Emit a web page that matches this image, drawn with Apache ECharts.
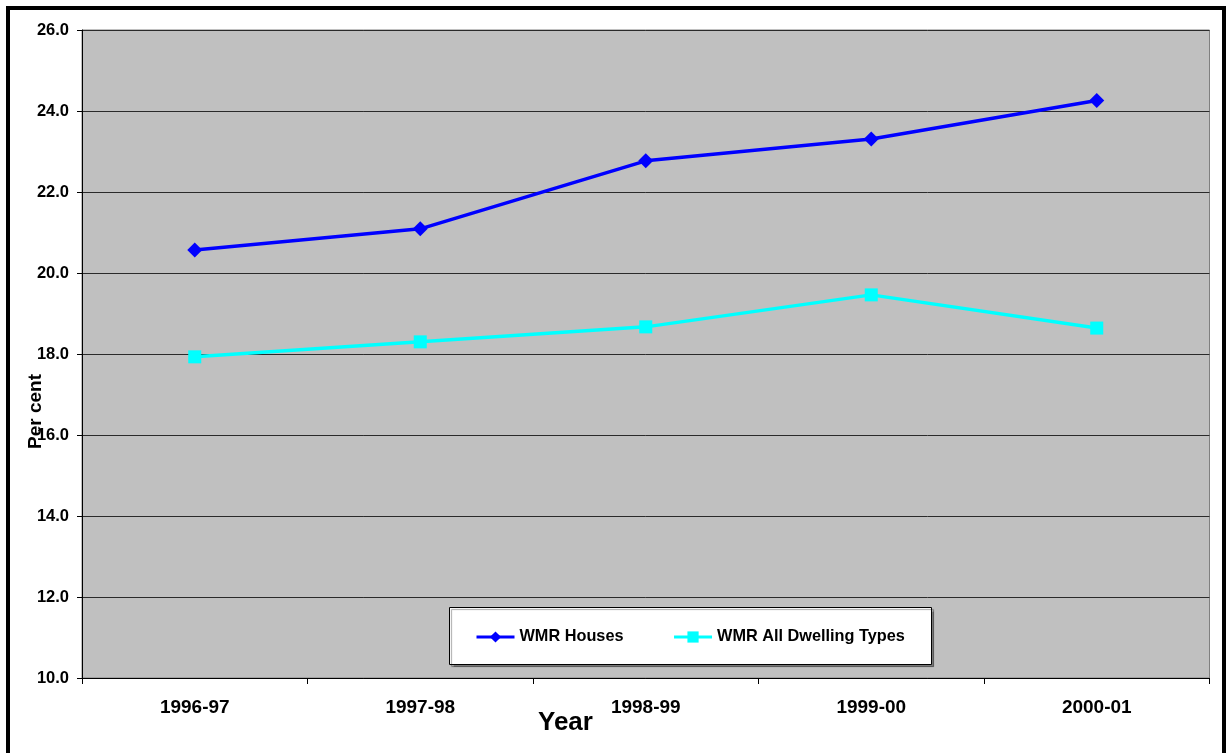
<!DOCTYPE html>
<html>
<head>
<meta charset="utf-8">
<script src="https://cdn.jsdelivr.net/npm/echarts@6/dist/echarts.min.js"></script>
<style>
  html, body { margin: 0; padding: 0; background: #fff; }
  #chart { width: 1226px; height: 753px; }
</style>
</head>
<body>
<div id="chart"></div>
<script>
// Financial years on the category axis
const years = ['1996-97', '1997-98', '1998-99', '1999-00', '2000-01'];
// Per cent values for each series
const wmrHouses = [20.57, 21.09, 22.77, 23.31, 24.26];
const wmrAllDwellings = [17.93, 18.30, 18.67, 19.46, 18.64];
// Value axis range
const yMin = 10, yMax = 26, yStep = 2;

const FONT = '"Liberation Sans", Arial, sans-serif';
const chart = echarts.init(document.getElementById('chart'), null, { renderer: 'canvas' });

chart.setOption({
  backgroundColor: '#ffffff',
  animation: false,
  grid: {
    left: 82, right: 16.5, top: 30, bottom: 75,
    show: true, backgroundColor: '#C0C0C0', borderColor: '#808080', borderWidth: 1
  },
  xAxis: {
    type: 'category',
    data: years,
    boundaryGap: true,
    axisLine: { lineStyle: { color: '#000', width: 1 } },
    axisTick: { show: true, alignWithLabel: false, length: 6, lineStyle: { color: '#000' } },
    axisLabel: { color: '#000', fontFamily: FONT, fontWeight: 'bold', fontSize: 19, margin: 20 },
    splitLine: { show: false }
  },
  yAxis: {
    type: 'value',
    min: yMin, max: yMax, interval: yStep,
    axisLine: { show: true, lineStyle: { color: '#000', width: 1 } },
    axisTick: { show: true, length: 5, lineStyle: { color: '#000' } },
    axisLabel: {
      color: '#000', fontFamily: FONT, fontWeight: 'bold', fontSize: 16.5, margin: 13,
      formatter: v => v.toFixed(1)
    },
    splitLine: { show: true, lineStyle: { color: '#2a2a2a', width: 1 } }
  },
  legend: {
    left: 475, top: 629, padding: 0,
    itemWidth: 38, itemHeight: 14, itemGap: 49,
    lineStyle: { width: 3 },
    textStyle: { color: '#000', fontFamily: FONT, fontWeight: 'bold', fontSize: 16.3 },
    data: ['WMR Houses', 'WMR All Dwelling Types']
  },
  series: [
    {
      name: 'WMR Houses', type: 'line', data: wmrHouses,
      symbol: 'diamond', symbolSize: 15,
      lineStyle: { color: '#0000FF', width: 3.5 },
      itemStyle: { color: '#0000FF' }
    },
    {
      name: 'WMR All Dwelling Types', type: 'line', data: wmrAllDwellings,
      symbol: 'rect', symbolSize: 13,
      lineStyle: { color: '#00FFFF', width: 3.5 },
      itemStyle: { color: '#00FFFF' }
    }
  ],
  graphic: [
    // outer frame
    { type: 'rect', z: 100, silent: true,
      shape: { x: 8, y: 8, width: 1216, height: 800 },
      style: { fill: 'none', stroke: '#000', lineWidth: 4 } },
    // legend box
    { type: 'rect', z: 1, silent: true,
      shape: { x: 449.5, y: 607.5, width: 482, height: 57 },
      style: { fill: '#fff', stroke: '#000', lineWidth: 1,
               shadowColor: 'rgba(0,0,0,0.35)', shadowOffsetX: 2, shadowOffsetY: 2, shadowBlur: 1 } },
    // axis titles
    { type: 'text', z: 10, left: 538, top: 710,
      style: { text: 'Year', fill: '#000', font: 'bold 26px ' + FONT } },
    { type: 'text', z: 10, x: 26, y: 449, rotation: Math.PI / 2,
      style: { text: 'Per cent', fill: '#000', font: 'bold 19px ' + FONT } }
  ]
});
</script>
</body>
</html>
